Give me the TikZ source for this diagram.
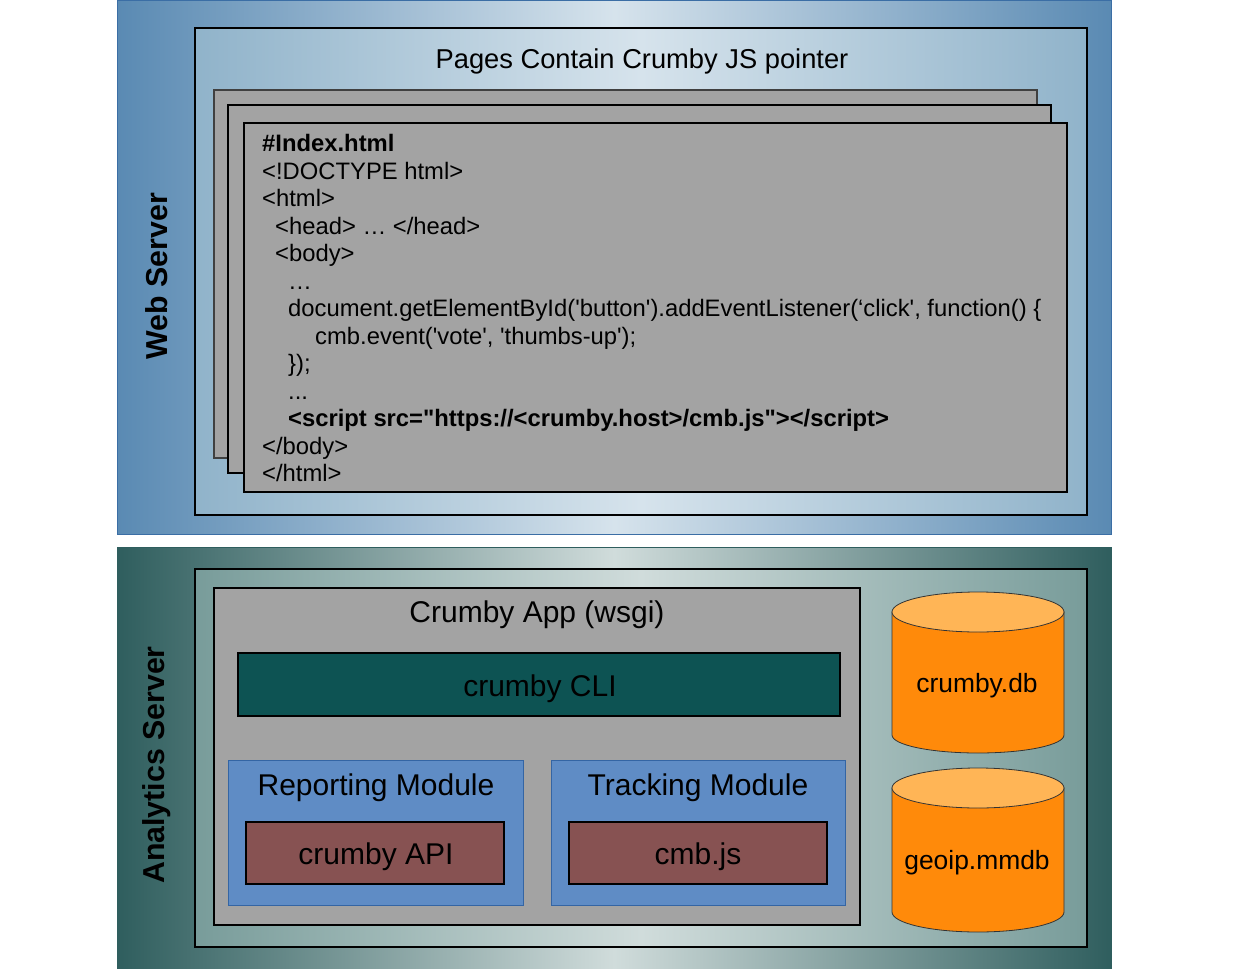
\documentclass[tikz,border=0pt]{standalone}
\usepackage{fontspec}
\setmainfont{Liberation Sans}[Ligatures=TeXOff]
\begin{document}
\begin{tikzpicture}[x=1pt,y=-1pt,
  codeline/.style={anchor=base west,inner sep=0pt,font=\fontsize{23.8}{27.5}\selectfont},
  pagebox/.style={fill=pagegray,draw=black,line width=1.2pt},
  sidelabel/.style={rotate=90,font=\fontsize{30.3}{34}\selectfont\bfseries,inner sep=0pt},
  bigtext/.style={font=\fontsize{30}{34}\selectfont,inner sep=0pt},
  dbtext/.style={font=\fontsize{26.4}{30}\selectfont,inner sep=0pt},
  modbox/.style={fill=modblue,draw=modborder,line width=1pt},
  subbox/.style={fill=apired,draw=black,line width=1.2pt},
  dbbody/.style={fill=dborange,draw=black!80,line width=0.8pt},
  dbtop/.style={fill=dblight,draw=black!80,line width=0.8pt}]
\definecolor{pagegray}{HTML}{A3A3A3}
\definecolor{webdark}{HTML}{5A8AB3}
\definecolor{weblight}{HTML}{D6E3EC}
\definecolor{webinner}{HTML}{90B3CA}
\definecolor{webborder}{HTML}{3B6EA5}
\definecolor{andark}{HTML}{2F5E5E}
\definecolor{anlight}{HTML}{D0DCDB}
\definecolor{aninner}{HTML}{789C9A}
\definecolor{clifill}{HTML}{0D5353}
\definecolor{modblue}{HTML}{5F8CC5}
\definecolor{modborder}{HTML}{3465A4}
\definecolor{apired}{HTML}{875252}
\definecolor{dborange}{HTML}{FF8A0A}
\definecolor{dblight}{HTML}{FFB556}
\useasboundingbox[fill=white] (0,0) rectangle (1254,969);

% ---------------- Web Server ----------------
\path[left color=webdark,right color=webdark,middle color=weblight,draw=webborder,line width=1pt]
  (117.5,0.5) rectangle (1111,534);
\path[left color=webinner,right color=webinner,middle color=weblight,draw=black,line width=2pt]
  (195,28) rectangle (1087,515);
\node[font=\fontsize{27.3}{31}\selectfont,inner sep=0pt] (pagestitle) at (642,61) {Pages Contain Crumby JS pointer};
\path[pagebox,draw=black!75] (214,90) rectangle (1037,458);
\path[pagebox] (228,105) rectangle (1051,473);
\path[pagebox] (244,123) rectangle (1067,492);
\node[codeline,font=\fontsize{23.8}{27.5}\selectfont\bfseries] (l1) at (262,151.5) {\#Index.html};
\node[codeline] (l2) at (262,179) {<!DOCTYPE html>};
\node[codeline] (l3) at (262,206.5) {<html>};
\node[codeline] (l4) at (275,234) {<head> … </head>};
\node[codeline] (l5) at (275,261.5) {<body>};
\node[codeline] (l6) at (288,289) {…};
\node[codeline] (l7) at (288,316.5) {document.getElementById('button').addEventListener(‘click', function() \{};
\node[codeline] (l8) at (315,344) {cmb.event('vote', 'thumbs-up');};
\node[codeline] (l9) at (288,371.5) {\});};
\node[codeline] (l10) at (288,399) {...};
\node[codeline,font=\fontsize{23.8}{27.5}\selectfont\bfseries] (l11) at (288,426.5) {<script src="https://<crumby.host>/cmb.js"></script>};
\node[codeline] (l12) at (262,454) {</body>};
\node[codeline] (l13) at (262,481.5) {</html>};
\node[sidelabel] (web) at (157,276) {Web Server};

% ---------------- Analytics Server ----------------
\path[left color=andark,right color=andark,middle color=anlight,draw=andark,line width=1pt]
  (117.5,547) rectangle (1111,969);
\path[left color=aninner,right color=aninner,middle color=anlight,draw=black,line width=2pt]
  (195,569) rectangle (1087,947);
\path[pagebox,line width=1.5pt] (214,588) rectangle (860,925);
\node[bigtext] (apptitle) at (537,615) {Crumby App (wsgi)};
\path[fill=clifill,draw=black,line width=1.2pt] (238,653) rectangle (840,716);
\node[bigtext] (cli) at (540,689) {crumby CLI};
\path[modbox] (228,760) rectangle (523,905);
\node[bigtext] (rep) at (376,788) {Reporting Module};
\path[subbox] (246,822) rectangle (504,884);
\node[bigtext] (api) at (376,857) {crumby API};
\path[modbox] (551,760) rectangle (845,905);
\node[bigtext] (trk) at (698,788) {Tracking Module};
\path[subbox] (569,822) rectangle (827,884);
\node[bigtext] (cmbjs) at (698,857) {cmb.js};
\node[sidelabel] (an) at (157,765) {Analytics Server};

% cylinders
\path[dbbody] (892,612) -- (892,735) arc[start angle=180,end angle=360,x radius=86pt,y radius=18pt] -- (1064,612) -- cycle;
\path[dbtop] (978,612) ellipse[x radius=86pt,y radius=20pt];
\node[dbtext] (db) at (977,686) {crumby.db};
\path[dbbody] (892,788) -- (892,912) arc[start angle=180,end angle=360,x radius=86pt,y radius=20pt] -- (1064,788) -- cycle;
\path[dbtop] (978,788) ellipse[x radius=86pt,y radius=20pt];
\node[dbtext] (geo) at (977,863) {geoip.mmdb};
\end{tikzpicture}
\end{document}
